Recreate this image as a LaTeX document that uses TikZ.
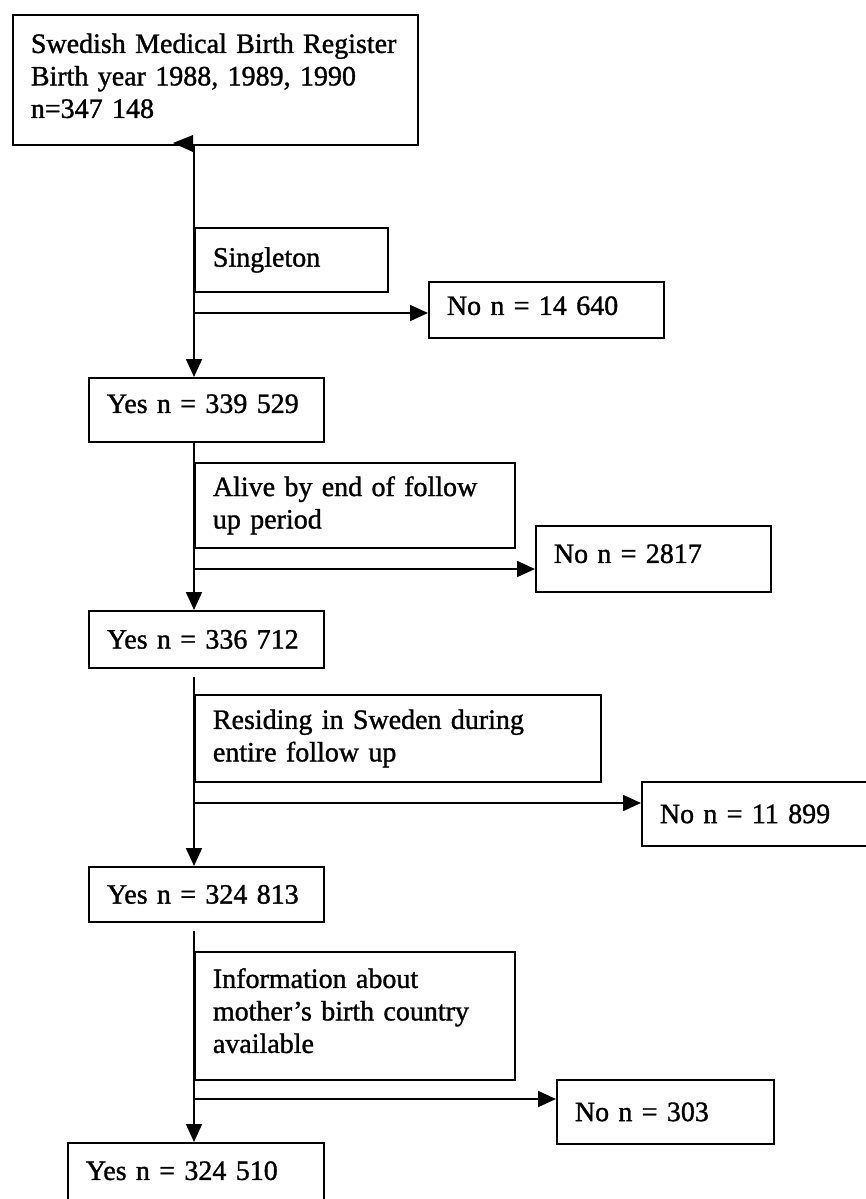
\documentclass[tikz,border=0pt]{standalone}
\usepackage{fontspec}
\setmainfont[FakeBold=1.2,WordSpace=0.75]{Liberation Serif}
\usetikzlibrary{arrows.meta}
\begin{document}
\begin{tikzpicture}[x=1pt,y=-1pt,
  box/.style={draw, line width=1.8pt, rectangle, anchor=north west, inner xsep=18pt, inner ysep=0pt, align=left, font=\fontsize{28}{32.5}\selectfont},
  arr/.style={line width=1.8pt, -{Triangle[length=18pt,width=16pt]}},
  ln/.style={line width=1.8pt}]
\useasboundingbox (0,0) rectangle (866,1199);
\fill[white] (0,0) rectangle (866,1199);
\clip (0,0) rectangle (866,1199);

\node[box, text width=369pt, text height=38pt, text depth=92pt] (top) at (12,14)
  {Swedish Medical Birth Register\\Birth year 1988, 1989, 1990\\n=347 148};
\node[box, text width=157pt, minimum height=64pt] (sing) at (194,227) {Singleton};
\node[box, text width=199pt, text height=33pt, text depth=23pt] (no1) at (428,281) {No n = 14 640};
\node[box, text width=199pt, text height=35pt, text depth=29pt] (yes1) at (88,377) {Yes n = 339 529};
\node[box, text width=284pt, minimum height=85pt] (alive) at (194,462) {Alive by end of follow\\up period};
\node[box, text width=199pt, text height=37pt, text depth=29pt] (no2) at (535,525) {No n = 2817};
\node[box, text width=199pt, minimum height=57pt] (yes2) at (88,610) {Yes n = 336 712};
\node[box, text width=370pt, minimum height=87pt] (res) at (194,694) {Residing in Sweden during\\entire follow up};
\node[box, text width=230pt, minimum height=64pt] (no3) at (641,781) {No n = 11 899};
\node[box, text width=199pt, minimum height=55pt] (yes3) at (88,866) {Yes n = 324 813};
\node[box, text width=284pt, text height=36pt, text depth=92pt] (info) at (194,951) {Information about\\mother’s birth country\\available};
\node[box, text width=181pt, minimum height=64pt] (no4) at (556,1079) {No n = 303};
\node[box, text width=220pt, text height=37pt, text depth=50pt] (yes4) at (67,1142) {Yes n = 324 510};

% main flow
\draw[arr] (top.south -| sing.west) -- (yes1.north -| sing.west);
\draw[arr] (yes1.south -| alive.west) -- (yes2.north -| alive.west);
\draw[arr, shorten <=8pt] (yes2.south -| res.west) -- (yes3.north -| res.west);
\draw[arr, shorten <=8pt] (yes3.south -| info.west) -- (yes4.north -| info.west);

% exclusions
\coordinate (b1) at (194,313);
\coordinate (b2) at (194,569);
\coordinate (b3) at (194,803);
\coordinate (b4) at (194,1099);
\draw[arr] (b1) -- (b1 -| no1.west);
\draw[arr] (b2) -- (b2 -| no2.west);
\draw[arr] (b3) -- (b3 -| no3.west);
\draw[arr] (b4) -- (b4 -| no4.west);
\draw[line width=2.6pt] (b3) -- ++(236,0);

% stray arrowhead under the first box
\fill (173,143) -- (193,135) -- (193,152) -- cycle;
\end{tikzpicture}
\end{document}
